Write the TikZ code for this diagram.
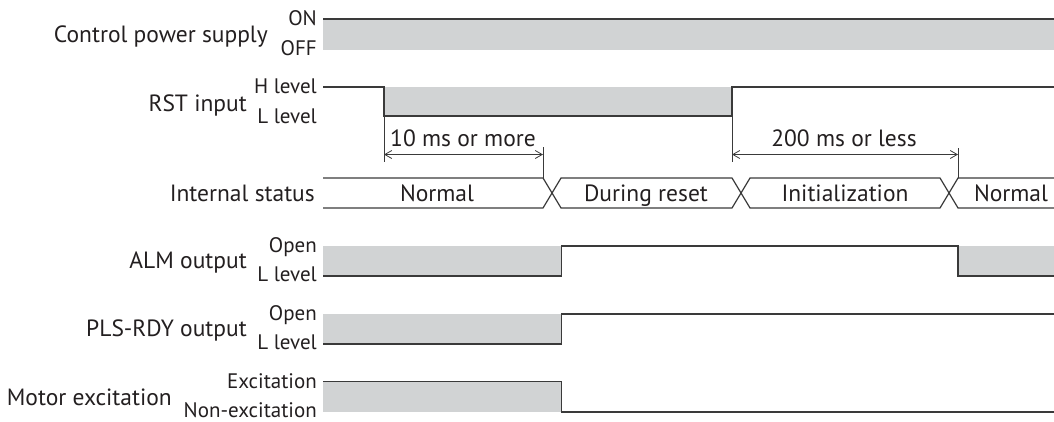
\documentclass[tikz,border=0pt]{standalone}
\usepackage{fontspec}
\setmainfont{PT Sans}
\usetikzlibrary{arrows.meta}
\definecolor{sig}{HTML}{3A3A3A}
\definecolor{txt}{HTML}{231F20}
\definecolor{gfill}{HTML}{D1D3D4}
\begin{document}
\begin{tikzpicture}[x=1pt,y=-1pt,
 sigline/.style={draw=sig,line width=1.2pt,line join=miter},
 grayfill/.style={fill=gfill},
 mainlbl/.style={anchor=base east,font=\fontsize{23.5}{27}\selectfont,text=txt,inner sep=0pt},
 lvllbl/.style={anchor=base east,font=\fontsize{21}{25}\selectfont,text=txt,inner sep=0pt,text depth=0pt},
 statelbl/.style={anchor=base,font=\fontsize{23.5}{27}\selectfont,text=txt,inner sep=0pt},
 dimline/.style={draw=sig,line width=0.8pt},
 dimarrow/.style={dimline,{Straight Barb[length=7pt,width=8pt]}-{Straight Barb[length=7pt,width=8pt]}}
]
\useasboundingbox (0,0) rectangle (1054,421);
% time marks
\coordinate (a1) at (384,116);
\coordinate (a1b) at (384,162);
\coordinate (a2) at (543,147);
\coordinate (a2b) at (543,178);
\coordinate (b1) at (732,116);
\coordinate (b1b) at (732,162);
\coordinate (b2) at (958,148);
\coordinate (b2b) at (958,178);
\coordinate (d1l) at (384,154.5);
\coordinate (d1r) at (543,154.5);
\coordinate (d2l) at (732,154.5);
\coordinate (d2r) at (958,154.5);

% Control power supply
\fill[grayfill] (323,19) rectangle (1054,49.5);
\draw[sigline] (323,19) -- (1054,19);
\node[mainlbl] (cps) at (268,42.7) {Control power supply};
\node[lvllbl] (cpson) at (317,25.5) {ON};
\node[lvllbl] (cpsoff) at (317,55.5) {OFF};

% RST input
\fill[grayfill] (384,87) rectangle (732,116);
\draw[sigline] (323,87) -- (384,87) -- (384,116) -- (732,116) -- (732,87) -- (1054,87);
\node[mainlbl] (rst) at (247,111.5) {RST input};
\node[lvllbl] (rsth) at (317,93) {H level};
\node[lvllbl] (rstl) at (317,123) {L level};

% dimensions
\draw[dimline] (a1) -- (a1b);
\draw[dimline] (a2) -- (a2b);
\draw[dimarrow] (d1l) -- (d1r);
\node[statelbl] (d1) at (463,146.7) {10 ms or more};
\draw[dimline] (b1) -- (b1b);
\draw[dimline] (b2) -- (b2b);
\draw[dimarrow] (d2l) -- (d2r);
\node[statelbl] (d2) at (844,146.7) {200 ms or less};

% Internal status
\draw[sigline] (323,178) -- (543,178) -- (561,208) -- (732,208) -- (750,178) -- (940,178) -- (958,208) -- (1054,208);
\draw[sigline] (323,208) -- (543,208) -- (561,178) -- (732,178) -- (750,208) -- (940,208) -- (958,178) -- (1054,178);
\node[mainlbl] (ist) at (315,201) {Internal status};
\node[statelbl] (s1) at (437,201) {Normal};
\node[statelbl] (s2) at (646,201) {During reset};
\node[statelbl] (s3) at (845,201) {Initialization};
\node[statelbl] (s4) at (1011,201) {Normal};

% ALM output
\fill[grayfill] (323,246) rectangle (561.5,276);
\fill[grayfill] (958,246) rectangle (1054,276);
\draw[sigline] (323,276) -- (561.5,276) -- (561.5,246) -- (958,246) -- (958,276) -- (1054,276);
\node[mainlbl] (alm) at (247,268.3) {ALM output};
\node[lvllbl] (almo) at (317,252) {Open};
\node[lvllbl] (alml) at (317,281.7) {L level};

% PLS-RDY output
\fill[grayfill] (323,314) rectangle (561.5,344);
\draw[sigline] (323,344) -- (561.5,344) -- (561.5,314) -- (1054,314);
\node[mainlbl] (pls) at (247,336.7) {PLS-RDY output};
\node[lvllbl] (plso) at (317,320) {Open};
\node[lvllbl] (plsl) at (317,349.5) {L level};

% Motor excitation
\fill[grayfill] (323,381.7) rectangle (561.5,412);
\draw[sigline] (323,381.7) -- (561.5,381.7) -- (561.5,412) -- (1054,412);
\node[mainlbl] (mex) at (172,405) {Motor excitation};
\node[lvllbl] (mexe) at (317,388) {Excitation};
\node[lvllbl] (mexn) at (317,417.5) {Non-excitation};
\end{tikzpicture}
\end{document}
